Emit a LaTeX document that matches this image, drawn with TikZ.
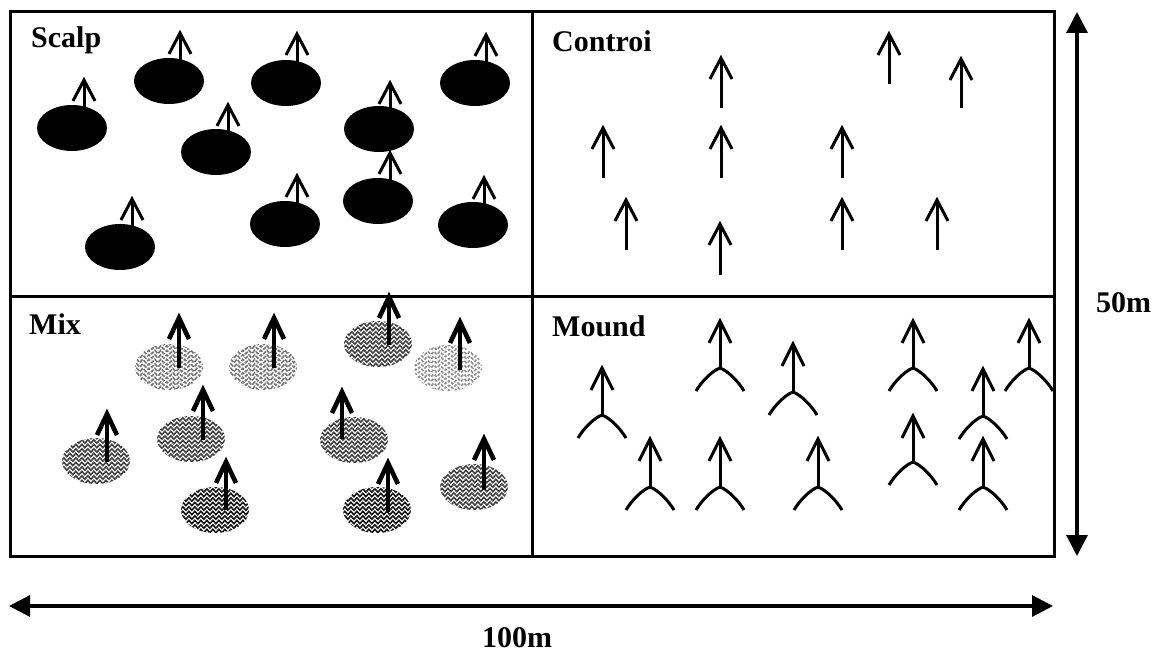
\documentclass[tikz,border=0pt]{standalone}
\usepackage{fontspec}
\setmainfont{Liberation Serif}
\usetikzlibrary{decorations.pathmorphing,arrows.meta}
\newcommand\SArw[3]{%
  \draw[thinarr] (#1,#3) -- (#1,#2);
  \draw[thinarr] (#1-11,#2+21) -- (#1,#2) -- (#1+11,#2+21);}
\newcommand\MxArw[3]{%
  \draw[thickarr] (#1,#3) -- (#1,#2);
  \draw[thickarr] (#1-10,#2+21) -- (#1,#2) -- (#1+10,#2+21);}
\newcommand\Mnd[3]{%
  \draw[moundarr] (#1,#3) -- (#1,#2);
  \draw[moundarr] (#1-11,#2+22) -- (#1,#2) -- (#1+11,#2+22);
  \draw[moundarr] (#1-24,#3+23) .. controls (#1-18,#3+13) and (#1-8,#3+3) .. (#1,#3)
     .. controls (#1+8,#3+3) and (#1+18,#3+13) .. (#1+24,#3+23);}
\newcommand\Ptch[3]{%
  \begin{scope}
    \clip (#1,#2) ellipse [x radius=34pt, y radius=23pt];
    \foreach \k in {-24,-19.5,...,24}
      \draw[#3, line width=1.6pt, decorate, decoration={snake,amplitude=1.7pt,segment length=6pt}] (#1-40,#2+\k) -- (#1+40,#2+\k);
  \end{scope}}
\begin{document}
\begin{tikzpicture}[x=1pt,y=-1pt,
  frame/.style={line width=3pt},
  thinarr/.style={line width=3pt},
  thickarr/.style={line width=4.6pt},
  moundarr/.style={line width=3pt},
  blob/.style={fill=black},
  dim/.style={line width=3.2pt, {Triangle[length=21pt,width=21pt]}-{Triangle[length=21pt,width=21pt]}},
  lbl/.style={font=\fontsize{30}{30}\selectfont\bfseries, anchor=base west, inner sep=0pt},
  dlbl/.style={font=\fontsize{30}{30}\selectfont\bfseries, anchor=base, inner sep=0pt},
  dark/.style={black!92},
  med/.style={black!75},
  light/.style={black!55, dash pattern=on 4pt off 1.5pt},
  vlight/.style={black!45, dash pattern=on 3pt off 2pt}]
\useasboundingbox (0,0) rectangle (1163,652);

% ---------- Scalp ----------
\foreach \cx/\cy in {72/128,169/81,286/83,475/83,216/152,379/129,378/201,285/224,473/225,120/247}
  \fill[blob] (\cx,\cy) ellipse [x radius=35pt, y radius=23pt];
\SArw{84}{80}{112}
\SArw{180}{33}{64}
\SArw{297}{34}{66}
\SArw{486}{35}{66}
\SArw{228}{105}{134}
\SArw{390}{83}{112}
\SArw{390}{153}{184}
\SArw{297}{176}{208}
\SArw{484}{178}{208}
\SArw{132}{199}{230}

% ---------- Controi ----------
\SArw{721}{58}{108}
\SArw{889}{34}{84}
\SArw{961}{59}{108}
\SArw{603}{128}{178}
\SArw{721}{128}{178}
\SArw{842}{128}{178}
\SArw{626}{200}{250}
\SArw{720}{224}{275}
\SArw{842}{200}{250}
\SArw{937}{200}{250}

% ---------- Mix ----------
\Ptch{169}{367}{light}
\Ptch{263}{367}{light}
\Ptch{378}{344}{med}
\Ptch{448}{368}{vlight}
\Ptch{96}{461}{med}
\Ptch{191}{439}{med}
\Ptch{354}{440}{med}
\Ptch{215}{510}{dark}
\Ptch{377}{510}{dark}
\Ptch{474}{487}{med}
\MxArw{179}{318}{368}
\MxArw{274}{318}{368}
\MxArw{389}{297}{345}
\MxArw{460}{322}{370}
\MxArw{107}{414}{462}
\MxArw{203}{390}{440}
\MxArw{342}{392}{439}
\MxArw{226}{462}{510}
\MxArw{388}{463}{512}
\MxArw{484}{439}{490}

% ---------- Mound ----------
\Mnd{602}{368}{415}
\Mnd{720}{321}{368}
\Mnd{793}{344}{392}
\Mnd{913}{321}{368}
\Mnd{1029}{321}{368}
\Mnd{983}{369}{416}
\Mnd{650}{439}{487}
\Mnd{720}{439}{487}
\Mnd{818}{439}{487}
\Mnd{913}{416}{462}
\Mnd{983}{439}{487}

% ---------- frame ----------
\draw[frame] (10,12) rectangle (1054,556);
\draw[frame] (532,12) -- (532,556);
\draw[frame] (10,297) -- (1054,297);

% ---------- labels ----------
\node[lbl] (scalp) at (31,48) {Scalp};
\node[lbl] (control) at (552,52) {Controi};
\node[lbl] (mix) at (29,335) {Mix};
\node[lbl] (mound) at (552,337) {Mound};

% ---------- dimensions ----------
\coordinate (vtop) at (1077,12);
\coordinate (vbot) at (1077,556);
\coordinate (hl) at (9,606);
\coordinate (hr) at (1053,606);
\draw[dim] (vbot) -- (vtop);
\draw[dim] (hl) -- (hr);
\node[lbl] (h50) at (1096,313) {50m};
\node[dlbl] (w100) at (517,647) {100m};
\end{tikzpicture}
\end{document}
